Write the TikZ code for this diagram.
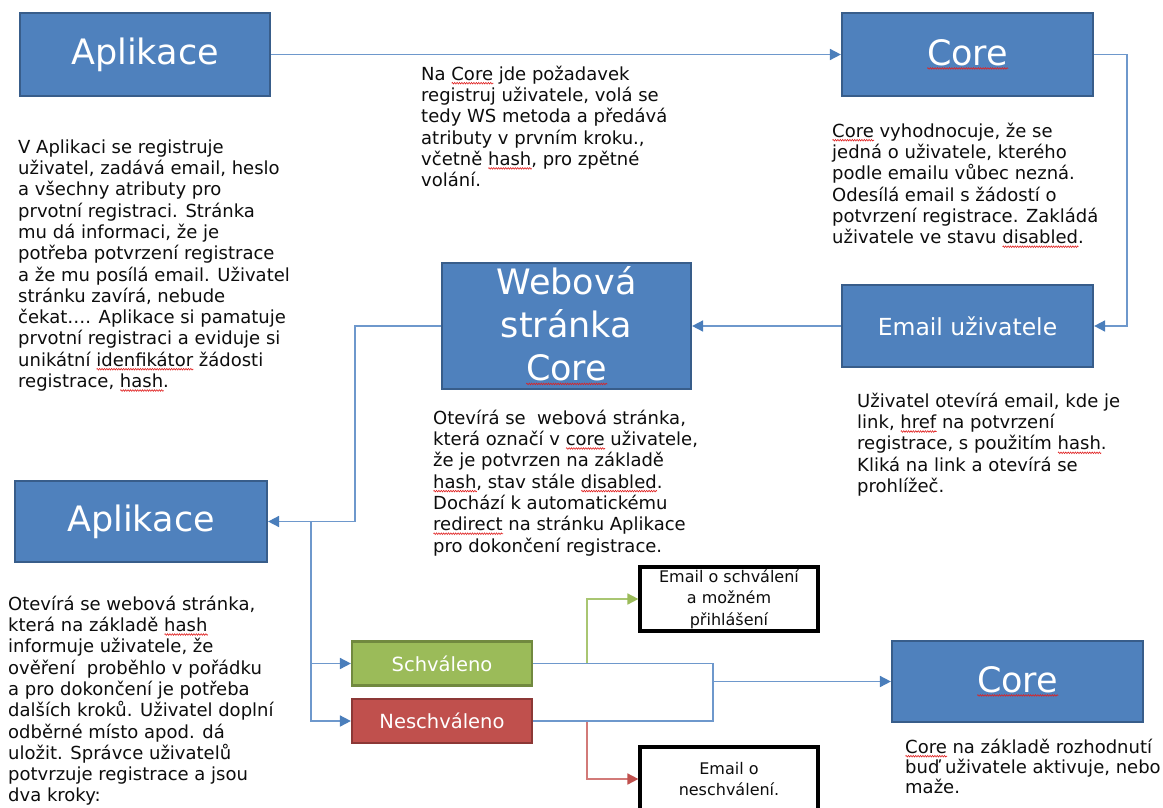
\documentclass[tikz,border=0pt]{standalone}
\usepackage{fontspec}
\setmainfont{DejaVu Sans}
\usetikzlibrary{arrows.meta,decorations.pathmorphing}
\definecolor{boxblue}{HTML}{4F81BD}
\definecolor{boxblueb}{HTML}{385D8A}
\definecolor{boxgreen}{HTML}{9BBB59}
\definecolor{boxgreenb}{HTML}{71893F}
\definecolor{boxred}{HTML}{C0504D}
\definecolor{boxredb}{HTML}{8C3836}
\definecolor{conn}{HTML}{6E98CC}
\definecolor{arrowblue}{HTML}{4A7EBB}
\definecolor{conngreen}{HTML}{A9C672}
\definecolor{connred}{HTML}{D27A78}
\definecolor{txt}{HTML}{0D0D0D}
\definecolor{spell}{HTML}{E02020}
\newlength\sqw
\newcommand\sq[1]{\settowidth\sqw{#1}\rlap{\tikz[baseline=0pt]\draw[spell,line width=0.6pt,fill=none,decorate,decoration={zigzag,amplitude=0.8pt,segment length=2.4pt}] (0pt,-3pt) -- (\sqw,-3pt);}#1}
\tikzset{
  bluebox/.style={draw=boxblueb, fill=boxblue, line width=2.2pt, text=white, align=center, inner sep=0},
  greenbox/.style={draw=boxgreenb, fill=boxgreen, line width=2.2pt, text=white, align=center, inner sep=0,
    minimum width=180pt, minimum height=44pt, font=\fontsize{19.5}{22}\selectfont},
  redbox/.style={draw=boxredb, fill=boxred, line width=2.2pt, text=white, align=center, inner sep=0,
    minimum width=180pt, minimum height=44pt, font=\fontsize{19.5}{22}\selectfont},
  mailbox/.style={draw=black, fill=white, line width=3.2pt, text=txt, align=center, inner sep=0,
    minimum width=178pt, minimum height=64pt},
  body/.style={anchor=north west, inner sep=0, align=left, text=txt, font=\fontsize{18}{21.3}\selectfont},
  conline/.style={draw=conn, line width=1.7pt},
  blueto/.style={conline, -{Triangle[length=11pt,width=11pt,color=arrowblue]}},
  greento/.style={draw=conngreen, line width=1.7pt, -{Triangle[length=11pt,width=11pt,color=boxgreen]}},
  redto/.style={draw=connred, line width=1.7pt, -{Triangle[length=11pt,width=11pt,color=boxred]}},
}
\begin{document}
\begin{tikzpicture}[x=1pt,y=-1pt]
\useasboundingbox (0,0) rectangle (1163,807);
\fill[white] (0,0) rectangle (1163,807);
\begin{scope}
\clip (0,0) rectangle (1163,807);
% boxes
\node[bluebox, minimum width=250pt, minimum height=83pt, font=\fontsize{35}{42}\selectfont] (app1) at (145,54.5) {Aplikace};
\node[bluebox, minimum width=251pt, minimum height=83pt, font=\fontsize{35}{42}\selectfont] (core1) at (967.5,54.5) {\sq{Core}};
\node[bluebox, minimum width=251pt, minimum height=82pt, font=\fontsize{23.5}{28}\selectfont] (email) at (967.5,326) {Email uživatele};
\node[bluebox, minimum width=249pt, minimum height=126pt, font=\fontsize{35}{43}\selectfont] (web) at (566.5,326) {Webová\\stránka\\\sq{Core}};
\node[bluebox, minimum width=252pt, minimum height=81pt, font=\fontsize{35}{42}\selectfont] (app2) at (141,521.5) {Aplikace};
\node[greenbox] (sch) at (442,663.5) {Schváleno};
\node[redbox] (nes) at (442,721) {Neschváleno};
\node[mailbox, font=\fontsize{16}{21.5}\selectfont] (es) at (729,599) {Email o schválení\\a možném\\přihlášení};
\node[mailbox, font=\fontsize{16}{20.5}\selectfont] (en) at (729,779) {Email o\\neschválení.};
\node[bluebox, minimum width=251pt, minimum height=81pt, font=\fontsize{35}{42}\selectfont] (core2) at (1017.5,681.5) {\sq{Core}};
% texts
\node[body] (t1) at (18,137) {\rule{0pt}{16pt}V Aplikaci se registruje\\
uživatel, zadává email, heslo\\
a všechny atributy pro\\
prvotní registraci. Stránka\\
mu dá informaci, že je\\
potřeba potvrzení registrace\\
a že mu posílá email. Uživatel\\
stránku zavírá, nebude\\
čekat…. Aplikace si pamatuje\\
prvotní registraci a eviduje si\\
unikátní \sq{idenfikátor} žádosti\\
registrace, \sq{hash}.};
\node[body] (t2) at (421,64) {\rule{0pt}{16pt}Na \sq{Core} jde požadavek\\
registruj uživatele, volá se\\
tedy WS metoda a předává\\
atributy v prvním kroku.,\\
včetně \sq{hash}, pro zpětné\\
volání.};
\node[body] (t3) at (832,121) {\rule{0pt}{16pt}\sq{Core} vyhodnocuje, že se\\
jedná o uživatele, kterého\\
podle emailu vůbec nezná.\\
Odesílá email s žádostí o\\
potvrzení registrace. Zakládá\\
uživatele ve stavu \sq{disabled}.};
\node[body] (t4) at (433,408) {\rule{0pt}{16pt}Otevírá se\ \ webová stránka,\\
která označí v \sq{core} uživatele,\\
že je potvrzen na základě\\
\sq{hash}, stav stále \sq{disabled}.\\
Dochází k automatickému\\
\sq{redirect} na stránku Aplikace\\
pro dokončení registrace.};
\node[body] (t5) at (857,391) {\rule{0pt}{16pt}Uživatel otevírá email, kde je\\
link, \sq{href} na potvrzení\\
registrace, s použitím \sq{hash}.\\
Kliká na link a otevírá se\\
prohlížeč.};
\node[body] (t6) at (8,594) {\rule{0pt}{16pt}Otevírá se webová stránka,\\
která na základě \sq{hash}\\
informuje uživatele, že\\
ověření\ \ proběhlo v pořádku\\
a pro dokončení je potřeba\\
dalších kroků. Uživatel doplní\\
odběrné místo apod. dá\\
uložit. Správce uživatelů\\
potvrzuje registrace a jsou\\
dva kroky:};
\node[body, font=\fontsize{18}{20}\selectfont] (t7) at (905,737) {\rule{0pt}{16pt}\sq{Core} na základě rozhodnutí\\
buď uživatele aktivuje, nebo\\
maže.};
% junction coordinates
\coordinate (j1) at (1127,54.5);
\coordinate (j2) at (355,326);
\coordinate (j3) at (311,521.5);
\coordinate (j4) at (713,681.5);
\coordinate (g1) at (587,663.5);
\coordinate (r1) at (587,721);
% connectors
\draw[blueto] (app1.east) -- (core1.west);
\draw[blueto] (core1.east) -- (j1) |- (email.east);
\draw[blueto] (email.west) -- (web.east);
\draw[blueto] (web.west) -- (j2) |- (app2.east);
\draw[blueto] (j3) |- (sch.west);
\draw[blueto] (j3) |- (nes.west);
\draw[greento] (g1) |- (es.west);
\draw[redto] (r1) |- (en.west);
\draw[conline] (sch.east) -| (j4);
\draw[conline] (nes.east) -| (j4);
\draw[blueto] (j4) -- (core2.west);
\end{scope}
\end{tikzpicture}
\end{document}
